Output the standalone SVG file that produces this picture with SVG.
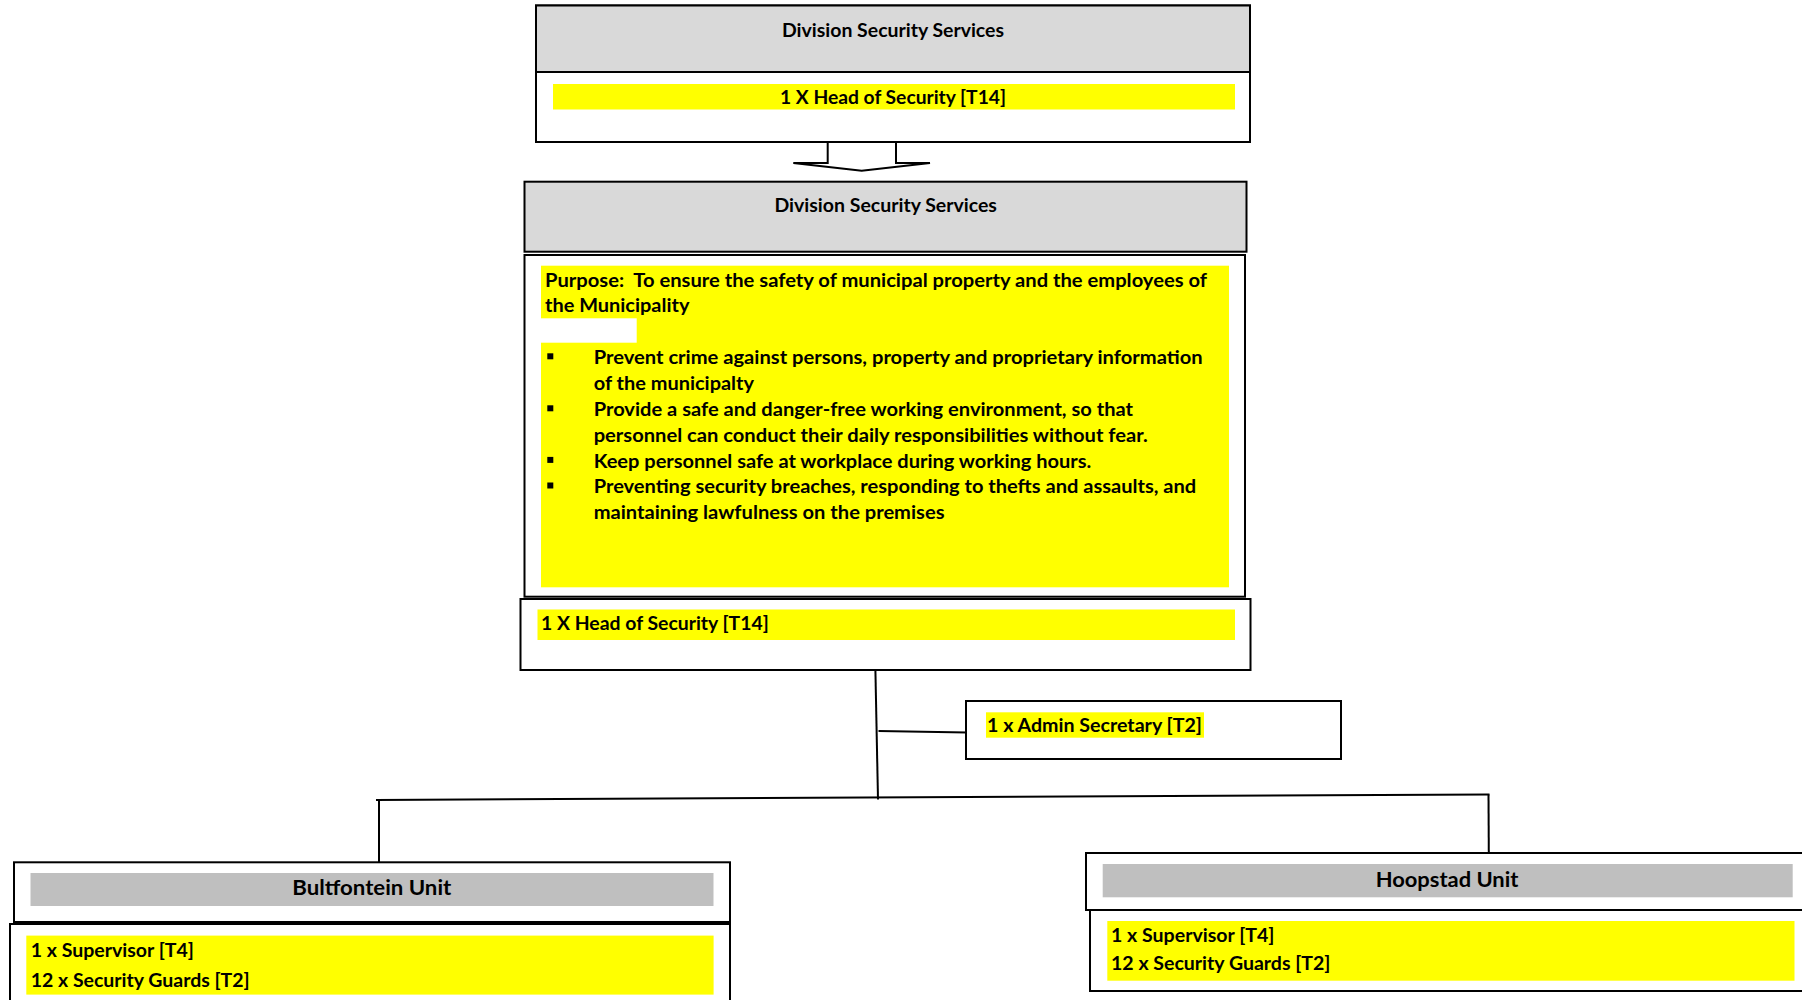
<svg xmlns="http://www.w3.org/2000/svg" width="1802" height="1000" viewBox="0 0 1802 1000">
<style>
  text { font-family: Lato, "Liberation Sans", sans-serif; font-weight: bold; fill: #000; }
  .t { font-size: 19px; }
  .u { font-size: 21px; }
  .box { fill: #fff; stroke: #000; stroke-width: 2; }
  .hdr { fill: #d9d9d9; stroke: #000; stroke-width: 2; }
  .ugray { fill: #bfbfbf; }
  .yel { fill: #ffff00; }
  .ln { fill: none; stroke: #000; stroke-width: 2; }
</style>
<rect x="0" y="0" width="1802" height="1000" fill="#fff"/>

<g id="connectors">
  <path class="ln" d="M827.7,142 L827.7,163 L793.3,163 L861.7,170.7 L930,163 L896,163 L896,142" fill="#fff"/>
  <line class="ln" x1="875.4" y1="670" x2="878" y2="799.5"/>
  <line class="ln" x1="878.5" y1="731" x2="967" y2="732.5"/>
  <line class="ln" x1="376" y1="800" x2="1489.5" y2="794.5"/>
  <line class="ln" x1="379" y1="799.5" x2="379" y2="862"/>
  <line class="ln" x1="1488.5" y1="794.5" x2="1488.8" y2="853"/>
</g>

<g id="node-top">
  <rect class="box" x="536" y="5.5" width="714" height="136.5"/>
  <rect class="hdr" x="536" y="5.5" width="714" height="66.5"/>
  <rect class="yel" x="553" y="84" width="682" height="25.5"/>
  <text class="t" x="893" y="37" text-anchor="middle" textLength="222" lengthAdjust="spacingAndGlyphs">Division Security Services</text>
  <text class="t" x="893" y="103.5" text-anchor="middle" textLength="226" lengthAdjust="spacingAndGlyphs">1 X Head of Security [T14]</text>
</g>

<g id="node-division">
  <rect class="hdr" x="524.5" y="181.7" width="722" height="70" stroke-width="2.5"/>
  <text class="t" x="885.7" y="211.7" text-anchor="middle" textLength="222.5" lengthAdjust="spacingAndGlyphs">Division Security Services</text>
</g>

<g id="node-purpose">
  <rect class="box" x="524.5" y="255" width="720.5" height="341.7"/>
  <rect class="yel" x="541" y="265.7" width="688" height="321.6"/>
  <rect x="541" y="318.3" width="95.7" height="24.4" fill="#fff"/>
  <text class="t" x="545" y="287" textLength="662" lengthAdjust="spacingAndGlyphs" xml:space="preserve">Purpose:  To ensure the safety of municipal property and the employees of</text>
  <text class="t" x="545" y="311.7" textLength="144.4" lengthAdjust="spacingAndGlyphs">the Municipality</text>
  <rect x="547.3" y="353.3" width="6" height="6" fill="#000"/>
  <rect x="547.3" y="405.3" width="6" height="6" fill="#000"/>
  <rect x="547.3" y="456.9" width="6" height="6" fill="#000"/>
  <rect x="547.3" y="482.5" width="6" height="6" fill="#000"/>
  <text class="t" x="593.7" y="364" textLength="609" lengthAdjust="spacingAndGlyphs">Prevent crime against persons, property and proprietary information</text>
  <text class="t" x="593.7" y="390" textLength="160.3" lengthAdjust="spacingAndGlyphs">of the municipalty</text>
  <text class="t" x="593.7" y="416" textLength="539.3" lengthAdjust="spacingAndGlyphs">Provide a safe and danger-free working environment, so that</text>
  <text class="t" x="593.7" y="441.7" textLength="554" lengthAdjust="spacingAndGlyphs">personnel can conduct their daily responsibilities without fear.</text>
  <text class="t" x="593.7" y="467.7" textLength="497.6" lengthAdjust="spacingAndGlyphs">Keep personnel safe at workplace during working hours.</text>
  <text class="t" x="593.7" y="493.3" textLength="602.5" lengthAdjust="spacingAndGlyphs">Preventing security breaches, responding to thefts and assaults, and</text>
  <text class="t" x="593.7" y="519.3" textLength="350.8" lengthAdjust="spacingAndGlyphs">maintaining lawfulness on the premises</text>
</g>

<g id="node-head">
  <rect class="box" x="520.5" y="599" width="730" height="71"/>
  <rect class="yel" x="537.5" y="609.5" width="697.5" height="30.5"/>
  <text class="t" x="541" y="630" textLength="227.8" lengthAdjust="spacingAndGlyphs">1 X Head of Security [T14]</text>
</g>

<g id="node-admin">
  <rect class="box" x="966" y="701" width="375" height="58"/>
  <rect class="yel" x="986" y="712.3" width="218" height="25.4"/>
  <text class="t" x="987" y="731.5" textLength="215" lengthAdjust="spacingAndGlyphs">1 x Admin Secretary [T2]</text>
</g>

<g id="node-bultfontein">
  <rect class="box" x="14" y="862.3" width="716" height="59.7"/>
  <rect class="ugray" x="30.5" y="873" width="683" height="33"/>
  <text class="u" x="371.8" y="895" text-anchor="middle" textLength="159" lengthAdjust="spacingAndGlyphs">Bultfontein Unit</text>
  <rect class="box" x="10" y="924" width="720" height="90"/>
  <rect class="yel" x="26.3" y="935.6" width="687.3" height="59"/>
  <text class="t" x="30.7" y="956.7" textLength="163.3" lengthAdjust="spacingAndGlyphs">1 x Supervisor [T4]</text>
  <text class="t" x="30.7" y="986.7" textLength="219" lengthAdjust="spacingAndGlyphs">12 x Security Guards [T2]</text>
</g>

<g id="node-hoopstad">
  <rect class="box" x="1086" y="853" width="730" height="57"/>
  <rect class="ugray" x="1102.7" y="864" width="690" height="33.3"/>
  <text class="u" x="1447" y="886.5" text-anchor="middle" textLength="142.7" lengthAdjust="spacingAndGlyphs">Hoopstad Unit</text>
  <rect class="box" x="1090" y="910" width="726" height="81"/>
  <rect class="yel" x="1107.3" y="921" width="687.2" height="59.7"/>
  <text class="t" x="1111" y="941.7" textLength="163.5" lengthAdjust="spacingAndGlyphs">1 x Supervisor [T4]</text>
  <text class="t" x="1111" y="970" textLength="219.5" lengthAdjust="spacingAndGlyphs">12 x Security Guards [T2]</text>
</g>
</svg>
